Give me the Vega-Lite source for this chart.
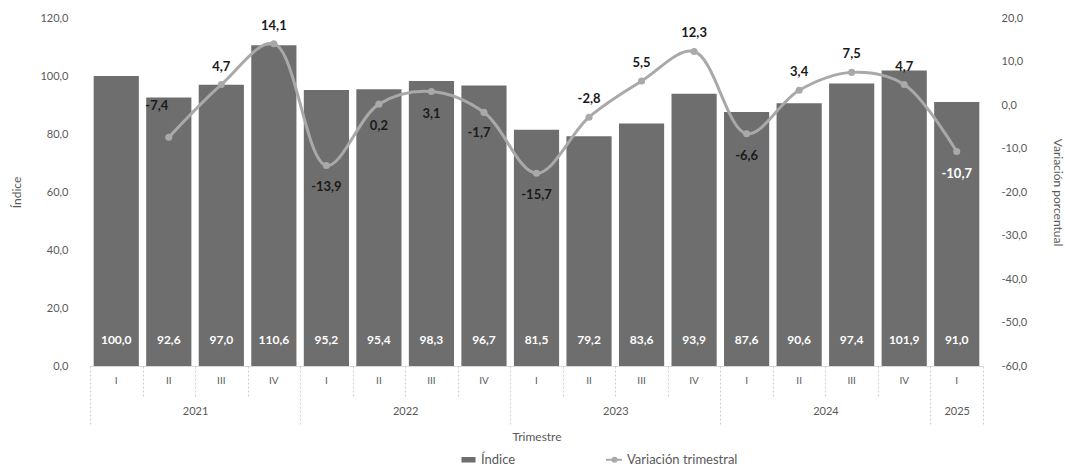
{
  "$schema": "https://vega.github.io/schema/vega-lite/v6.json",
  "width": 893,
  "height": 348,
  "padding": {"left": 10, "top": 12, "right": 2, "bottom": 5},
  "background": "white",
  "config": {
    "locale": {"number": {"decimal": ",", "thousands": ".", "grouping": [3], "currency": ["", ""], "minus": "-"}},
    "font": "Lato",
    "view": {"stroke": null},
    "axis": {"labelColor": "#595959", "titleColor": "#595959", "labelFontSize": 11, "titleFontSize": 12, "titleFontWeight": "normal", "labelFont": "Lato", "titleFont": "Lato"}
  },
  "data": {"values": [
    {"t": "2021-I", "year": "2021", "q": "I", "indice": 100.0, "var": null},
    {"t": "2021-II", "year": "2021", "q": "II", "indice": 92.6, "var": -7.4},
    {"t": "2021-III", "year": "2021", "q": "III", "indice": 97.0, "var": 4.7},
    {"t": "2021-IV", "year": "2021", "q": "IV", "indice": 110.6, "var": 14.1},
    {"t": "2022-I", "year": "2022", "q": "I", "indice": 95.2, "var": -13.9},
    {"t": "2022-II", "year": "2022", "q": "II", "indice": 95.4, "var": 0.2},
    {"t": "2022-III", "year": "2022", "q": "III", "indice": 98.3, "var": 3.1},
    {"t": "2022-IV", "year": "2022", "q": "IV", "indice": 96.7, "var": -1.7},
    {"t": "2023-I", "year": "2023", "q": "I", "indice": 81.5, "var": -15.7},
    {"t": "2023-II", "year": "2023", "q": "II", "indice": 79.2, "var": -2.8},
    {"t": "2023-III", "year": "2023", "q": "III", "indice": 83.6, "var": 5.5},
    {"t": "2023-IV", "year": "2023", "q": "IV", "indice": 93.9, "var": 12.3},
    {"t": "2024-I", "year": "2024", "q": "I", "indice": 87.6, "var": -6.6},
    {"t": "2024-II", "year": "2024", "q": "II", "indice": 90.6, "var": 3.4},
    {"t": "2024-III", "year": "2024", "q": "III", "indice": 97.4, "var": 7.5},
    {"t": "2024-IV", "year": "2024", "q": "IV", "indice": 101.9, "var": 4.7},
    {"t": "2025-I", "year": "2025", "q": "I", "indice": 91.0, "var": -10.7}
  ]},
  "resolve": {"scale": {"x": "independent"}, "axis": {"x": "independent"}},
  "layer": [
    {
      "resolve": {"scale": {"y": "independent", "x": "shared"}, "axis": {"y": "independent"}},
      "layer": [
        {
          "layer": [
            {
              "mark": {"type": "bar", "fill": "#6e6e6e"},
              "encoding": {
                "x": {"field": "t", "type": "nominal", "sort": null,
                  "scale": {"paddingInner": 0.14, "paddingOuter": 0.07},
                  "axis": {"title": null, "orient": "bottom", "labelExpr": "split(datum.value, '-')[1]", "labelAngle": 0, "ticks": false, "domain": true, "domainColor": "#d9d9d9", "labelPadding": 9, "labelFontSize": 10}},
                "y": {"field": "indice", "type": "quantitative",
                  "scale": {"domain": [0, 120], "nice": false},
                  "axis": {"title": "Índice", "orient": "left", "values": [0, 20, 40, 60, 80, 100, 120], "format": ".1f", "grid": false, "ticks": false, "domain": false, "labelPadding": 22, "titlePadding": 16}},
                "color": {"datum": "Índice", "type": "nominal",
                  "scale": {"domain": ["Índice", "Variación trimestral"], "range": ["#6e6e6e", "#a9a9a9"]},
                  "legend": {"orient": "none", "legendX": 372, "legendY": 435, "direction": "horizontal", "title": null, "columnPadding": 86, "labelFontSize": 13, "labelColor": "#595959", "labelFont": "Lato", "symbolSize": 100, "labelOffset": 6,
                    "encode": {"symbols": {"update": {
                      "shape": {"signal": "datum.value == 'Índice' ? 'M-1.2,-0.35H1.2V0.35H-1.2Z' : 'M-1.7,0H1.5M0.4,0A0.4,0.4 0 1 1 -0.4,0A0.4,0.4 0 1 1 0.4,0'"},
                      "fill": {"signal": "datum.value == 'Índice' ? '#6e6e6e' : '#a9a9a9'"},
                      "stroke": {"signal": "datum.value == 'Índice' ? '#6e6e6e' : '#a9a9a9'"},
                      "strokeWidth": {"value": 2},
                      "fillOpacity": {"value": 1}}}}}}
              }
            },
            {
              "mark": {"type": "text", "color": "white", "fontWeight": "bold", "fontSize": 12, "baseline": "middle", "dy": -26},
              "encoding": {
                "x": {"field": "t", "type": "nominal", "sort": null},
                "y": {"datum": 0, "type": "quantitative"},
                "text": {"field": "indice", "type": "quantitative", "format": ".1f"}
              }
            }
          ]
        },
        {
          "layer": [
            {
              "mark": {"type": "line", "interpolate": "catmull-rom", "strokeWidth": 3, "point": {"filled": true, "size": 50, "color": "#a9a9a9"}},
              "encoding": {
                "x": {"field": "t", "type": "nominal", "sort": null},
                "y": {"field": "var", "type": "quantitative",
                  "scale": {"domain": [-60, 20], "nice": false},
                  "axis": {"title": "Variación porcentual", "orient": "right", "values": [-60, -50, -40, -30, -20, -10, 0, 10, 20], "format": ".1f", "grid": false, "ticks": false, "domain": false, "labelPadding": 18, "titlePadding": 24}},
                "color": {"datum": "Variación trimestral", "type": "nominal"}
              }
            },
            {
              "transform": [{"filter": "indexof(['2021-III','2021-IV','2023-II','2023-III','2023-IV','2024-II','2024-III','2024-IV'], datum.t) >= 0"}],
              "mark": {"type": "text", "fontWeight": "bold", "fontSize": 13, "color": "#1a1a1a", "baseline": "middle", "dy": -18},
              "encoding": {
                "x": {"field": "t", "type": "nominal", "sort": null},
                "y": {"field": "var", "type": "quantitative"},
                "text": {"field": "var", "type": "quantitative", "format": ".1f"}
              }
            },
            {
              "transform": [{"filter": "datum.t == '2021-II'"}],
              "mark": {"type": "text", "fontWeight": "bold", "fontSize": 13, "color": "#1a1a1a", "baseline": "middle", "dy": -31, "dx": -12},
              "encoding": {
                "x": {"field": "t", "type": "nominal", "sort": null},
                "y": {"field": "var", "type": "quantitative"},
                "text": {"field": "var", "type": "quantitative", "format": ".1f"}
              }
            },
            {
              "transform": [{"filter": "indexof(['2022-I','2022-II','2022-III','2023-I','2024-I'], datum.t) >= 0"}],
              "mark": {"type": "text", "fontWeight": "bold", "fontSize": 13, "color": "#1a1a1a", "baseline": "middle", "dy": 22},
              "encoding": {
                "x": {"field": "t", "type": "nominal", "sort": null},
                "y": {"field": "var", "type": "quantitative"},
                "text": {"field": "var", "type": "quantitative", "format": ".1f"}
              }
            },
            {
              "transform": [{"filter": "datum.t == '2022-IV'"}],
              "mark": {"type": "text", "fontWeight": "bold", "fontSize": 13, "color": "#1a1a1a", "baseline": "middle", "dy": 21, "dx": -5},
              "encoding": {
                "x": {"field": "t", "type": "nominal", "sort": null},
                "y": {"field": "var", "type": "quantitative"},
                "text": {"field": "var", "type": "quantitative", "format": ".1f"}
              }
            },
            {
              "transform": [{"filter": "datum.t == '2025-I'"}],
              "mark": {"type": "text", "fontWeight": "bold", "fontSize": 13, "color": "white", "baseline": "middle", "dy": 22},
              "encoding": {
                "x": {"field": "t", "type": "nominal", "sort": null},
                "y": {"field": "var", "type": "quantitative"},
                "text": {"field": "var", "type": "quantitative", "format": ".1f"}
              }
            }
          ]
        }
      ]
    },
    {
      "mark": {"type": "rule", "opacity": 0},
      "encoding": {
        "x": {"datum": 0, "type": "quantitative",
          "scale": {"domain": [0, 17], "nice": false, "zero": false},
          "axis": {"orient": "bottom", "title": null, "values": [0, 1, 2, 3, 4, 5, 6, 7, 8, 9, 10, 11, 12, 13, 14, 15, 16, 17], "labels": false, "domain": false, "grid": false, "ticks": true, "tickColor": "#cfcfcf", "tickDash": [2, 2], "tickWidth": 1,
            "tickSize": {"condition": {"test": "indexof([0, 4, 8, 12, 16, 17], datum.value) >= 0", "value": 58}, "value": 30}}}
      }
    },
    {
      "mark": {"type": "rule", "opacity": 0},
      "encoding": {
        "x": {"datum": 0, "type": "quantitative",
          "scale": {"domain": [0, 17], "nice": false, "zero": false},
          "axis": {"orient": "bottom", "title": "Trimestre", "values": [2, 6, 10, 14, 16.5], "labelExpr": "datum.value == 2 ? '2021' : datum.value == 6 ? '2022' : datum.value == 10 ? '2023' : datum.value == 14 ? '2024' : '2025'", "labelFontSize": 11, "ticks": false, "domain": false, "grid": false, "labelPadding": 39, "titlePadding": 15, "labelFlush": false, "labelOverlap": false}}
      }
    }
  ]
}
